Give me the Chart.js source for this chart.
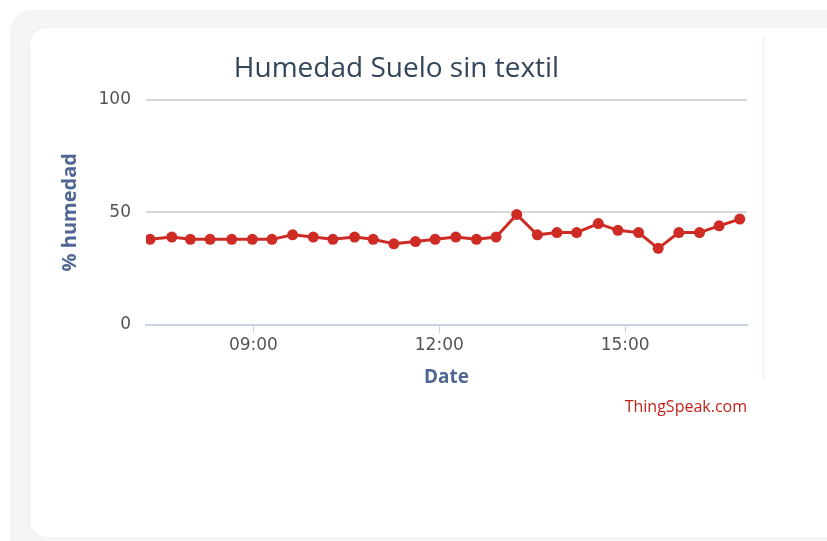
<!DOCTYPE html>
<html>
<head>
<meta charset="utf-8">
<script src="https://cdn.jsdelivr.net/npm/chart.js@4"></script>
<style>
  body { margin: 0; background: #ffffff; width: 827px; height: 541px; overflow: hidden; position: relative; font-family: "Open Sans", sans-serif; }
  .outer { position: absolute; left: 10px; top: 10px; width: 840px; height: 560px; background: #f5f5f5; border-radius: 22px; }
  .card { position: absolute; left: 30px; top: 28px; width: 820px; height: 509px; background: #ffffff; border-radius: 16px; box-shadow: -1px 0 2px #ececec; }
  .edge { position: absolute; left: 762px; top: 36px; width: 3px; height: 344px; background: #fdf3f3; }
  #wrap { position: absolute; left: 46px; top: 28px; width: 719px; height: 400px; }
  .credit { position: absolute; right: 80px; top: 395px; font-size: 16px; color: #c4211b; font-family: "Open Sans", sans-serif; }
</style>
</head>
<body>
<div class="outer"></div>
<div class="card"></div>
<div class="edge"></div>
<div id="wrap"><canvas id="humChart" width="719" height="400"></canvas></div>
<div class="credit">ThingSpeak.com</div>
<script>
  // readings (time of day, % humedad)
  const times = ["07:20", "07:41", "07:59", "08:18", "08:39", "08:59", "09:18", "09:38", "09:58", "10:17",
                 "10:38", "10:56", "11:16", "11:37", "11:56", "12:16", "12:36", "12:55", "13:15", "13:35",
                 "13:54", "14:13", "14:34", "14:53", "15:13", "15:32", "15:52", "16:12", "16:31", "16:51"];
  const humedad = [38, 39, 38, 38, 38, 38, 38, 40, 39, 38,
                   39, 38, 36, 37, 38, 39, 38, 39, 49, 40,
                   41, 41, 45, 42, 41, 34, 41, 41, 44, 47];
  const xTicks = ["09:00", "12:00", "15:00"];
  const yTicks = [0, 50, 100];

  function toMin(t) {
    const p = t.split(":");
    return parseInt(p[0]) * 60 + parseInt(p[1]);
  }
  function fmt(m) {
    const h = Math.floor(m / 60), mm = m % 60;
    return String(h).padStart(2, "0") + ":" + String(mm).padStart(2, "0");
  }

  const points = times.map(function (t, i) { return { x: toMin(t), y: humedad[i] }; });

  const config = {
    type: "line",
    data: {
      datasets: [
        {
          label: "Humedad",
          data: points,
          borderColor: "#cf2b25",
          backgroundColor: "#cf2b25",
          borderWidth: 3,
          pointRadius: 5.5,
          pointBorderWidth: 0,
          tension: 0,
        },
      ],
    },
    options: {
      responsive: false,
      animation: false,
      layout: { padding: { left: 0, right: 18, top: 0, bottom: 0 } },
      plugins: {
        legend: { display: false },
        tooltip: { enabled: false },
        title: {
          display: true,
          text: "Humedad Suelo sin textil",
          color: "#34465a",
          font: { family: "Open Sans", size: 28, weight: "normal" },
          padding: { top: 24, bottom: 14 },
        },
      },
      scales: {
        x: {
          type: "linear",
          min: 436,
          max: 1018,
          afterFit: function (scale) { scale.height = 103; },
          afterBuildTicks: function (scale) {
            scale.ticks = xTicks.map(function (t) { return { value: toMin(t) }; });
          },
          ticks: {
            color: "#555",
            font: { family: "DejaVu Sans", size: 17 },
            padding: 2,
            maxRotation: 0,
            callback: function (v) { return fmt(v); },
          },
          grid: { drawOnChartArea: false, drawTicks: true, tickLength: 8, color: "#c5d3e2", lineWidth: 1 },
          border: { display: true, color: "#c5d3e2", width: 2 },
          title: {
            display: true,
            text: "Date",
            color: "#4f6694",
            font: { family: "Open Sans", size: 19, weight: "bold" },
            padding: { top: 4, bottom: 39 },
          },
        },
        y: {
          min: 0,
          max: 100,
          afterFit: function (scale) { scale.width = 100; },
          afterBuildTicks: function (scale) {
            scale.ticks = yTicks.map(function (v) { return { value: v }; });
          },
          ticks: {
            color: "#555",
            font: { family: "DejaVu Sans", size: 17 },
            padding: 15,
          },
          grid: { color: "#d8d8d8", lineWidth: 2, drawTicks: false },
          border: { display: false },
          title: {
            display: true,
            text: "% humedad",
            color: "#4f6694",
            font: { family: "Open Sans", size: 20, weight: "bold" },
            padding: { top: 12, bottom: 0 },
          },
        },
      },
    },
  };

  const humChart = new Chart(document.getElementById("humChart"), config);
</script>
</body>
</html>
